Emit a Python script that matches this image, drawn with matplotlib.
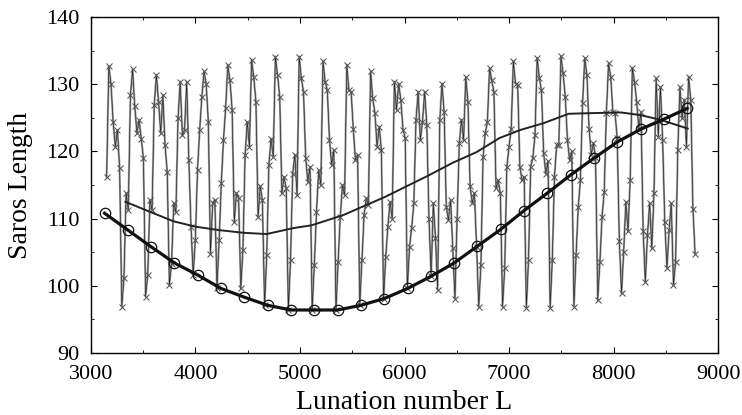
import numpy as np
import matplotlib
matplotlib.use("Agg")
import matplotlib.pyplot as plt
from matplotlib.ticker import MultipleLocator

# ---- data ----
# oscillating Saros-length series, one row per ~229-lunation cycle
series_L0 = 3150
series_step = 20.7
saros_cycles = [
    [116.2, 132.7, 130.1, 124.4, 120.7, 123.2, 117.5, 96.9, 101.1, 113.8, 111.3],
    [128.4, 132.2, 126.7, 122.7, 124.7, 121.9, 119.0, 98.4, 101.6, 112.8, 111.3],
    [126.9, 131.4, 127.4, 122.7, 128.4, 120.9, 117.0, 100.1, 103.3, 112.3, 111.0],
    [124.9, 130.4, 122.4, 123.2, 130.4, 118.7, 108.8, 101.6, 106.8, 117.2, 123.2],
    [128.1, 131.9, 130.1, 124.4, 104.8, 112.3, 112.8, 99.6, 106.8, 115.3, 121.7],
    [126.4, 132.9, 130.6, 126.2, 109.5, 113.8, 113.0, 99.6, 105.3, 119.5, 124.4],
    [120.7, 133.6, 131.1, 127.4, 110.3, 114.8, 112.8, 97.1, 104.6, 118.0, 121.9],
    [119.2, 134.1, 131.4, 128.1, 113.8, 116.2, 114.5, 96.4, 103.8, 116.7, 119.5],
    [113.5, 134.1, 130.9, 128.9, 119.0, 115.5, 117.7, 96.4, 103.1, 111.0, 117.2],
    [115.0, 133.4, 130.4, 129.1, 121.7, 118.0, 120.2, 96.4, 103.6, 110.3, 115.0],
    [113.5, 132.9, 129.1, 128.9, 123.4, 118.7, 119.5, 97.1, 103.8, 110.5, 113.0],
    [112.0, 131.9, 127.9, 125.7, 120.7, 123.7, 120.2, 98.1, 104.3, 108.8, 112.5],
    [110.0, 130.4, 126.2, 130.1, 127.6, 123.2, 122.0, 99.6, 105.8, 108.6, 112.3],
    [124.7, 128.9, 121.7, 124.4, 128.9, 123.9, 110.0, 101.4, 112.3, 107.1, 99.4],
    [124.7, 130.1, 125.9, 111.7, 109.8, 112.8, 105.6, 98.1, 110.0, 121.2, 124.7],
    [121.7, 131.1, 127.4, 114.8, 112.3, 113.8, 105.8, 96.9, 103.1, 119.2, 122.7],
    [124.4, 132.4, 130.6, 128.9, 114.5, 115.7, 113.8, 96.9, 102.6, 117.7, 120.7],
    [123.4, 133.4, 130.1, 129.9, 117.7, 115.7, 116.2, 96.7, 103.8, 117.7, 119.0],
    [122.4, 133.9, 130.9, 129.1, 119.7, 116.7, 118.5, 96.7, 103.8, 116.2, 120.9],
    [120.9, 134.2, 131.6, 128.1, 121.7, 118.7, 120.0, 96.9, 104.6, 111.8, 115.7],
    [127.2, 133.9, 131.4, 123.4, 119.5, 121.2, 119.0, 97.9, 103.6, 110.3, 114.0],
    [125.7, 133.1, 131.1, 125.9, 125.7, 122.0, 106.6, 98.9, 105.1, 112.5, 108.1],
    [115.7, 132.4, 130.4, 127.4, 123.4, 125.9, 108.1, 100.6, 107.6, 112.3, 105.6],
    [113.8, 130.9, 122.2, 129.6, 121.7, 109.5, 102.6, 108.3, 112.3, 100.1, 103.6],
    [120.2, 129.6, 124.9, 127.7, 120.7, 131.1, 127.7, 111.5, 104.8],
]

# thin smooth curve
thin_L = [3330, 3550, 3790, 4000, 4220, 4450, 4680, 4940, 5110, 5410, 5810,
          6240, 6460, 6690, 6910, 7110, 7330, 7570, 7800, 8070, 8260, 8450, 8710]
thin_y = [112.5, 111.1, 109.6, 108.8, 108.3, 107.9, 107.7, 108.6, 109.0, 110.5, 113.2,
          116.5, 118.3, 119.9, 122.0, 123.2, 124.2, 125.6, 125.7, 125.8, 125.4, 124.7, 123.4]

# thick curve with circles (one point per saros, 223 lunations)
thick_L0 = 3130
thick_step = 223
thick_y = [110.8, 108.3, 105.8, 103.4, 101.6, 99.6, 98.3, 97.1, 96.4, 96.4, 96.4,
           97.1, 98.1, 99.6, 101.4, 103.4, 105.9, 108.4, 111.2, 113.8, 116.5, 119.0,
           121.4, 123.3, 124.8, 126.4]

x_ticks = [3000, 4000, 5000, 6000, 7000, 8000, 9000]
y_ticks = [90, 100, 110, 120, 130, 140]

# ---- build ----
series_y = [v for cyc in saros_cycles for v in cyc]
series_L = series_L0 + series_step * np.arange(len(series_y))
thick_L = thick_L0 + thick_step * np.arange(len(thick_y))

plt.rcParams['font.family'] = ['Liberation Serif', 'DejaVu Serif']
fig = plt.figure(figsize=(7.42, 4.15), dpi=100)
ax = fig.add_axes([0.1226, 0.1494, 0.8451, 0.8096])

ax.plot(series_L, series_y, color='#9a9a9a', lw=1.5, zorder=2)
ax.plot(series_L, series_y, color='#222222', lw=0.45, marker='x', ms=4.5,
        mec='#555555', mew=0.75, zorder=3)
ax.plot(thin_L, thin_y, color='#222222', lw=1.4, zorder=4)
ax.plot(thick_L, thick_y, color='#111111', lw=2.3, marker='o', ms=7.5,
        mfc='none', mec='#111111', mew=0.9, zorder=5)

ax.set_xlim(3000, 9000)
ax.set_ylim(90, 140)
ax.set_xticks(x_ticks)
ax.set_yticks(y_ticks)
ax.xaxis.set_minor_locator(MultipleLocator(500))
ax.yaxis.set_minor_locator(MultipleLocator(5))
ax.tick_params(which='both', direction='in', top=True, right=True, labelsize=16)
ax.tick_params(axis='x', which='major', pad=9)
ax.tick_params(axis='y', which='major', pad=8)
ax.tick_params(which='major', length=4, width=0.8)
ax.tick_params(which='minor', length=2.5, width=0.6)
for s in ax.spines.values():
    s.set_linewidth(1.0)
ax.set_xlabel('Lunation number L', fontsize=20, labelpad=4)
ax.set_ylabel('Saros Length', fontsize=20, labelpad=10)

fig.savefig('out.png', dpi=100)
